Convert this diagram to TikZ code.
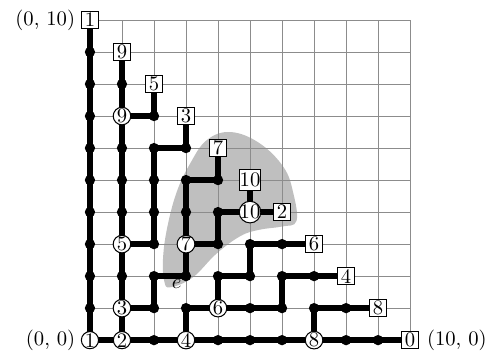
\documentclass[tikz,border=0pt]{standalone}
\usetikzlibrary{positioning}
\begin{document}
\begin{tikzpicture}[x=0.545cm,y=0.545cm,
  tpath/.style={line width=2.8pt},
  dotnode/.style={circle,fill=black,inner sep=0pt,minimum size=5pt},
  cnode/.style={circle,draw,fill=white,inner sep=0pt,line width=0.5pt},
  bnode/.style={rectangle,draw,fill=white,inner sep=0.3pt,minimum size=8.5pt,line width=0.5pt},
  gridline/.style={black!45,line width=0.45pt},
  blob/.style={fill=black!25}]
\useasboundingbox (-2.81,-0.344) rectangle (12.59,10.625);
% shaded region
\fill[blob] plot[smooth cycle,tension=0.65] coordinates {
  (4.4,6.5) (5.3,6.15) (6.05,5.4) (6.35,4.6) (6.45,3.72) (6.0,3.55)
  (5.3,3.45) (4.7,3.25) (3.95,2.7) (3.2,1.95) (2.5,1.65) (2.32,1.85)
  (2.28,2.5) (2.4,3.45) (2.7,4.6) (3.12,5.5) (3.65,6.25)};
% lattice coordinates
\foreach \x in {0,...,10} \foreach \y in {0,...,10} \coordinate (p\x-\y) at (\x,\y);
% grid
\foreach \i in {0,...,10} {
  \draw[gridline] (p\i-0) -- (p\i-10);
  \draw[gridline] (p0-\i) -- (p10-\i);
}
% paths
\draw[tpath] (p0-0) -- (p0-10);
\draw[tpath] (p0-0) -- (p10-0);
\draw[tpath] (p1-0) -- (p1-9);
\draw[tpath] (p1-7) -- (p2-7) -- (p2-8);
\draw[tpath] (p1-3) -- (p2-3) -- (p2-6) -- (p3-6) -- (p3-7);
\draw[tpath] (p1-1) -- (p2-1) -- (p2-2) -- (p3-2) -- (p3-5) -- (p4-5) -- (p4-6);
\draw[tpath] (p3-3) -- (p4-3) -- (p4-4) -- (p6-4);
\draw[tpath] (p5-4) -- (p5-5);
\draw[tpath] (p3-0) -- (p3-1) -- (p4-1) -- (p4-2) -- (p5-2) -- (p5-3) -- (p7-3);
\draw[tpath] (p4-1) -- (p6-1) -- (p6-2) -- (p8-2);
\draw[tpath] (p7-0) -- (p7-1) -- (p9-1);
% dots
\foreach \p in {0-1,0-2,0-3,0-4,0-5,0-6,0-7,0-8,0-9,
  2-0,4-0,5-0,6-0,8-0,9-0,
  1-2,1-4,1-5,1-6,1-8,2-7,
  2-3,2-4,2-5,2-6,3-6,
  2-1,2-2,3-2,3-4,3-5,4-5,
  4-3,4-4,
  3-1,4-2,5-2,5-3,6-3,
  5-1,6-1,6-2,7-2,
  7-1,8-1}
  \node[dotnode] (d\p) at (p\p) {};
% circled nodes
\node[cnode] (c1) at (p0-0) {1};
\node[cnode] (c2) at (p1-0) {2};
\node[cnode] (c4) at (p3-0) {4};
\node[cnode] (c8) at (p7-0) {8};
\node[cnode] (c3) at (p1-1) {3};
\node[cnode] (c6) at (p4-1) {6};
\node[cnode] (c5) at (p1-3) {5};
\node[cnode] (c7) at (p3-3) {7};
\node[cnode] (c9) at (p1-7) {9};
\node[cnode,inner sep=-0.6pt] (c10) at (p5-4) {10};
% boxed nodes
\node[bnode] (b1) at (p0-10) {1};
\node[bnode] (b9) at (p1-9) {9};
\node[bnode] (b5) at (p2-8) {5};
\node[bnode] (b3) at (p3-7) {3};
\node[bnode] (b7) at (p4-6) {7};
\node[bnode,minimum size=10.3pt] (b10) at (p5-5) {10};
\node[bnode] (b2) at (p6-4) {2};
\node[bnode] (b6) at (p7-3) {6};
\node[bnode] (b4) at (p8-2) {4};
\node[bnode] (b8) at (p9-1) {8};
\node[bnode] (b0) at (p10-0) {0};
% labels
\node[left=1.5pt of b1,inner sep=1pt] (l010) {(0, 10)};
\node[left=1.5pt of c1,inner sep=1pt] (l00) {(0, 0)};
\node[right=2.5pt of b0,inner sep=1pt] (l100) {(10, 0)};
\node[inner sep=0pt] (le) at (2.71,1.74) {$e$};
\end{tikzpicture}
\end{document}
